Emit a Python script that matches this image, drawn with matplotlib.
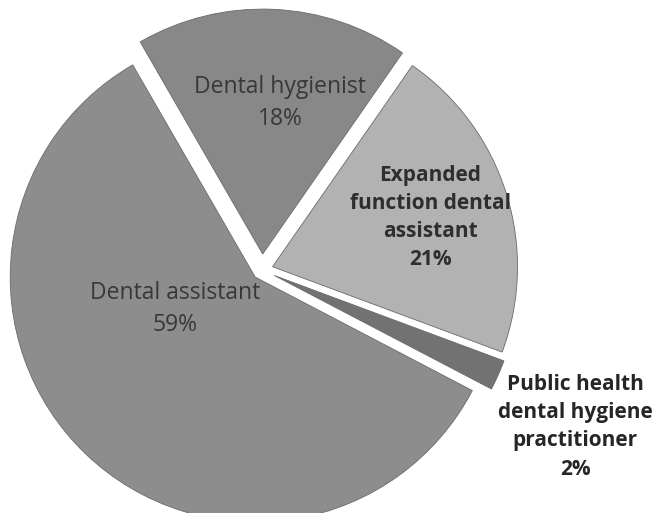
import matplotlib.pyplot as plt
import numpy as np

# data (counterclockwise from startangle)
labels = ["Dental assistant", "Public health\ndental hygiene\npractitioner",
          "Expanded\nfunction dental\nassistant", "Dental hygienist"]
shares = [59, 2, 21, 18]
colors = ["#8d8d8d", "#727272", "#b2b2b2", "#888888"]
explode = [0.04, 0.055, 0.045, 0.065]

# label placement (data coords) and styling
label_pos = [(-0.355, -0.16), (1.278, -0.64), (0.686, 0.215), (0.073, 0.68)]
label_bold = [False, True, True, False]
label_color = ["#383838", "#262626", "#2e2e2e", "#383838"]

fig = plt.figure(figsize=(6.58, 5.13), dpi=100)
ax = fig.add_axes([0, 0, 1, 1])

wedges, _ = ax.pie(shares, colors=colors, explode=explode, startangle=120,
                   counterclock=True, radius=1.0,
                   wedgeprops=dict(edgecolor="#6a6a6a", linewidth=0.6))

for i, lab in enumerate(labels):
    x, y = label_pos[i]
    ax.text(x, y, lab + "\n" + str(shares[i]) + "%", ha="center", va="center",
            fontsize=15 if label_bold[i] else 16.5,
            fontweight="bold" if label_bold[i] else "normal",
            family=["Open Sans", "DejaVu Sans"], color=label_color[i],
            linespacing=1.45 if label_bold[i] else 1.45)

cx, cy, R = 262, 270, 245
ax.set_xlim(-cx / R, (658 - cx) / R)
ax.set_ylim(-(513 - cy) / R, cy / R)
ax.set_aspect("equal")
ax.axis("off")

fig.savefig("out.png", dpi=100, facecolor="white")
